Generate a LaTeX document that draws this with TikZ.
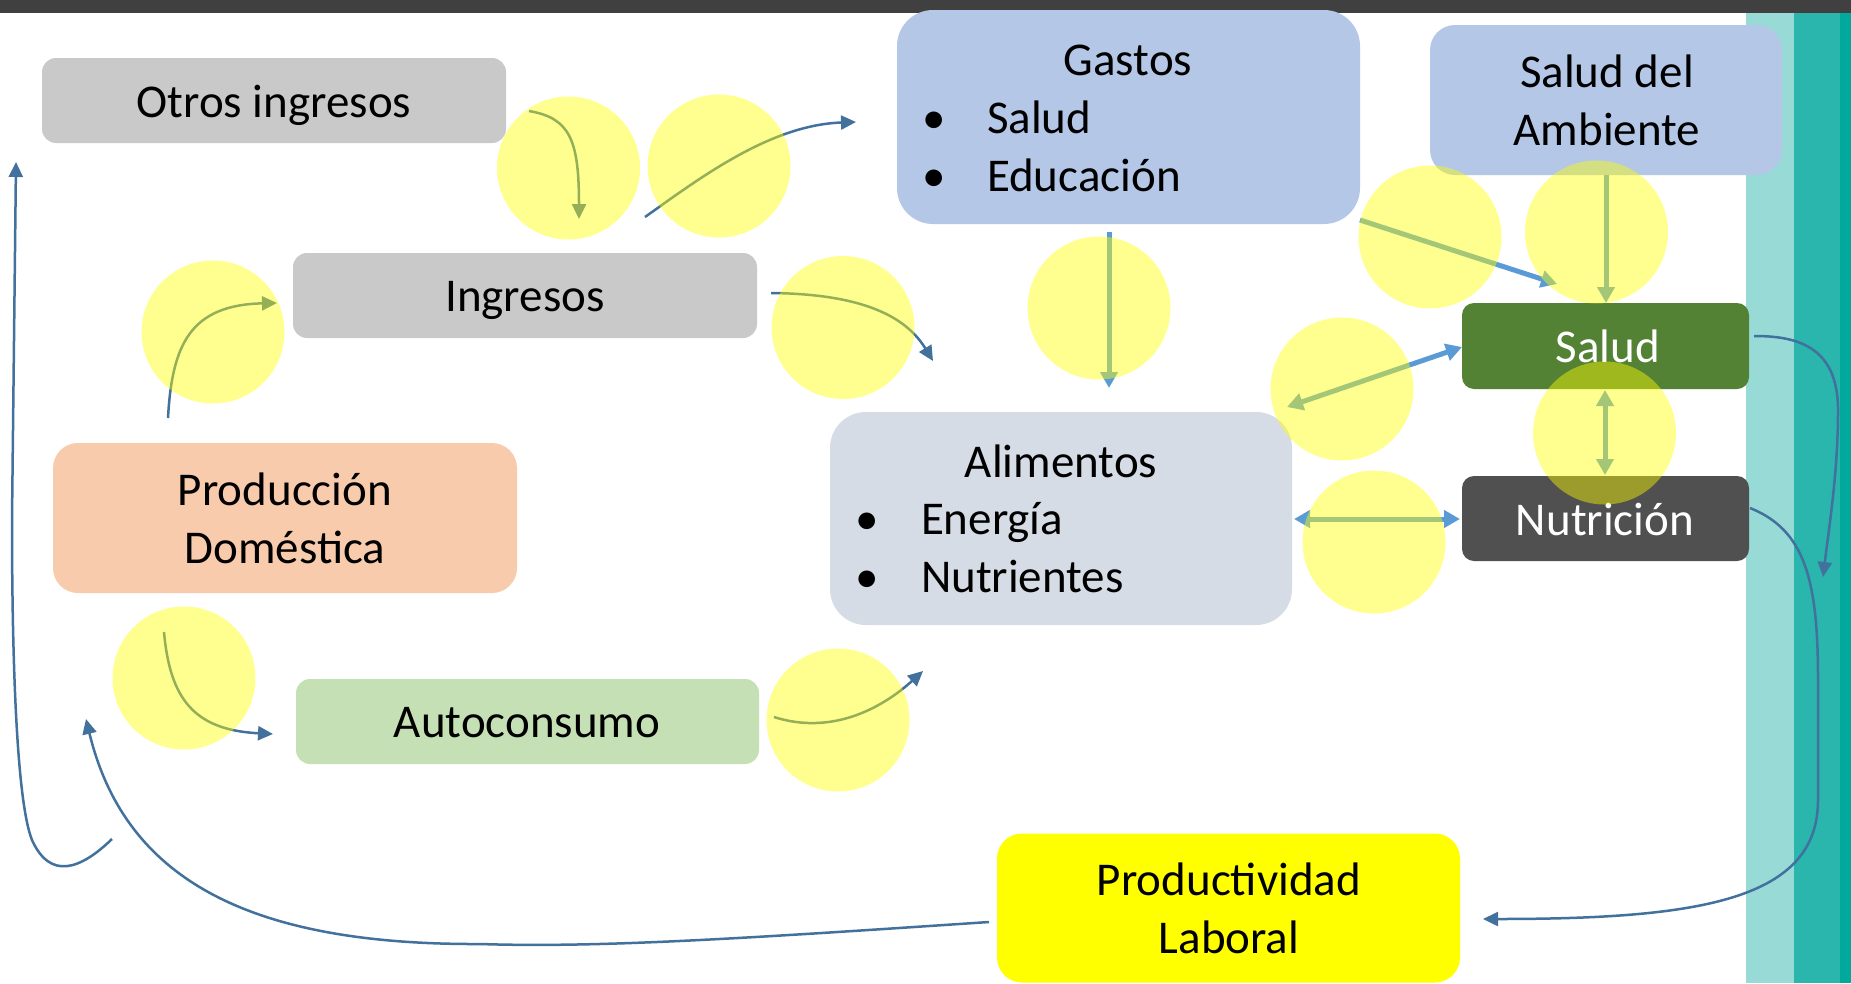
\documentclass[tikz,border=0pt]{standalone}
\usepackage{fontspec}
\setmainfont{Carlito}
\usetikzlibrary{arrows.meta}
\definecolor{topbar}{HTML}{404040}
\definecolor{tealA}{HTML}{98DBD6}
\definecolor{tealB}{HTML}{2AB5AD}
\definecolor{tealC}{HTML}{00A99C}
\definecolor{greybox}{HTML}{C9C9C9}
\definecolor{bluebox}{HTML}{B4C7E7}
\definecolor{alimbox}{HTML}{D6DCE5}
\definecolor{saludbox}{HTML}{548235}
\definecolor{nutribox}{HTML}{505050}
\definecolor{prodbox}{HTML}{F8CBAD}
\definecolor{autobox}{HTML}{C5E0B4}
\definecolor{dblue}{HTML}{41719C}
\definecolor{lblue}{HTML}{5B9BD5}
\definecolor{pureyellow}{HTML}{FFFF00}
\begin{document}
\begin{tikzpicture}[x=1pt,y=-1pt,
  box/.style={rectangle, draw=none, inner sep=0pt, outer sep=0pt},
  lbl/.style={anchor=base, inner sep=0pt, outer sep=0pt, text=black, font=\fontsize{47}{57.5}\selectfont},
  lblw/.style={lbl, anchor=base west},
  conn/.style={draw=dblue, line width=2.5pt, -{Triangle[length=15pt,width=14pt]}},
  fat/.style={draw=lblue, line width=5pt, -{Triangle[length=16pt,width=17pt]}},
  fatboth/.style={draw=lblue, line width=5pt, {Triangle[length=16pt,width=17pt]}-{Triangle[length=16pt,width=17pt]}},
  hl/.style={circle, draw=none, fill=pureyellow, fill opacity=0.44, minimum size=143pt, inner sep=0pt}]
\useasboundingbox (0,0) rectangle (1851,983);
\fill[white] (0,0) rectangle (1851,983);
\fill[topbar] (0,0) rectangle (1851,13);
\fill[tealA] (1746,13) rectangle (1794,983);
\fill[tealB] (1794,13) rectangle (1840,983);
\fill[tealC] (1840,13) rectangle (1851,983);

% boxes
\node[box, fill=greybox, minimum width=464pt, minimum height=85pt, rounded corners=14pt] (otros) at (274,100.5) {};
\node[box, fill=greybox, minimum width=464pt, minimum height=85pt, rounded corners=14pt] (ingresos) at (525,295.5) {};
\node[box, fill=bluebox, minimum width=463pt, minimum height=214pt, rounded corners=36pt] (gastos) at (1128.5,117) {};
\node[box, fill=bluebox, minimum width=352pt, minimum height=150pt, rounded corners=25pt] (ambiente) at (1606,100) {};
\node[box, fill=saludbox, minimum width=287pt, minimum height=86pt, rounded corners=12pt] (salud) at (1605.5,346) {};
\node[box, fill=nutribox, minimum width=287pt, minimum height=85pt, rounded corners=12pt] (nutricion) at (1605.5,518.5) {};
\node[box, fill=alimbox, minimum width=462pt, minimum height=213pt, rounded corners=36pt] (alimentos) at (1061,518.5) {};
\node[box, fill=prodbox, minimum width=464pt, minimum height=150pt, rounded corners=25pt] (produccion) at (285,518) {};
\node[box, fill=autobox, minimum width=463pt, minimum height=85pt, rounded corners=14pt] (autoconsumo) at (527.5,721.5) {};
\node[box, fill=pureyellow, minimum width=463pt, minimum height=149pt, rounded corners=25pt] (productividad) at (1228.5,908) {};

% texts
\node[lbl] (tOtros) at (274,117) {Otros ingresos};
\node[lbl] (tIngresos) at (525,311) {Ingresos};
\node[lbl] (tGastos) at (1128,75) {Gastos};
\node[lbl] (tGb1) at (934,133) {•};
\node[lbl] (tGb2) at (934,191) {•};
\node[lblw] (tGsalud) at (987,133) {Salud};
\node[lblw] (tGedu) at (987,191) {Educación};
\node[lbl] (tAmb1) at (1607,87) {Salud del};
\node[lbl] (tAmb2) at (1607,145) {Ambiente};
\node[lbl, text=white] (tSalud) at (1608,362) {Salud};
\node[lbl, text=white] (tNutri) at (1605,535) {Nutrición};
\node[lbl] (tAlim) at (1061,477) {Alimentos};
\node[lbl] (tAb1) at (867,534.5) {•};
\node[lbl] (tAb2) at (867,592) {•};
\node[lblw] (tEnergia) at (921,534.5) {Energía};
\node[lblw] (tNutrientes) at (921,592) {Nutrientes};
\node[lbl] (tProd1) at (285,505) {Producción};
\node[lbl] (tProd2) at (285,563) {Doméstica};
\node[lbl] (tAuto) at (527,737) {Autoconsumo};
\node[lbl] (tPL1) at (1229,895) {Productividad};
\node[lbl] (tPL2) at (1229,953) {Laboral};

% connector end points
\coordinate (a1s) at (529,111);   \coordinate (a1e) at (579,219);
\coordinate (a2s) at (645,217);   \coordinate (a2e) at (856,122);
\coordinate (a3s) at (168,418);   \coordinate (a3e) at (277,303);
\coordinate (a4s) at (771,293);   \coordinate (a4e) at (933,361);
\coordinate (a5s) at (1109,232);  \coordinate (a5e) at (1109,388);
\coordinate (a6s) at (1360,220);  \coordinate (a6e) at (1557,284);
\coordinate (a7s) at (1606,175);  \coordinate (a7e) at (1606,303);
\coordinate (a8s) at (1287,407);  \coordinate (a8e) at (1462,347);
\coordinate (a9s) at (1605,390);  \coordinate (a9e) at (1605,475);
\coordinate (a10s) at (1294,519); \coordinate (a10e) at (1460,519);
\coordinate (a11s) at (1754,336); \coordinate (a11e) at (1823,577);
\coordinate (a12s) at (1750,508); \coordinate (a12e) at (1483,919);
\coordinate (a13s) at (989,922);  \coordinate (a13e) at (86,719);
\coordinate (a14s) at (164,632);  \coordinate (a14e) at (273,734);
\coordinate (a15s) at (774,717);  \coordinate (a15e) at (923,671);
\coordinate (a16s) at (112,839);  \coordinate (a16e) at (16,162);

% connectors
\draw[conn] (a1s) .. controls (570,118) and (579,140) .. (a1e);
\draw[conn] (a2s) .. controls (700,178) and (770,125) .. (a2e);
\draw[conn] (a3s) .. controls (172,345) and (190,305) .. (a3e);
\draw[conn] (a4s) .. controls (860,294) and (905,315) .. (a4e);
\draw[fat] (a5s) -- (a5e);
\draw[fat] (a6s) -- (a6e);
\draw[fat] (a7s) -- (a7e);
\draw[fatboth] (a8s) -- (a8e);
\draw[fatboth] (a9s) -- (a9e);
\draw[fatboth] (a10s) -- (a10e);
\draw[conn] (a11s) .. controls (1795,336) and (1838,345) .. (1838,410) .. controls (1838,470) and (1830,520) .. (a11e);
\draw[conn] (a12s) .. controls (1805,530) and (1818,580) .. (1818,680) -- (1818,800) .. controls (1818,900) and (1700,919) .. (a12e);
\draw[conn] (a13s) .. controls (750,938) and (600,948) .. (480,944) .. controls (250,945) and (125,880) .. (a13e);
\draw[conn] (a14s) .. controls (170,700) and (195,730) .. (a14e);
\draw[conn] (a15s) .. controls (830,735) and (880,710) .. (a15e);
\draw[conn] (a16s) .. controls (80,870) and (50,880) .. (32,840) .. controls (16,800) and (12,650) .. (12,520) -- (a16e);

% highlighter circles
\node[hl] (h1) at (568.5,168) {};
\node[hl] (h2) at (719,166) {};
\node[hl] (h3) at (213,332) {};
\node[hl] (h4) at (843,327.5) {};
\node[hl] (h5) at (1099,308) {};
\node[hl] (h6) at (1430,237) {};
\node[hl] (h7) at (1596.5,232) {};
\node[hl] (h8) at (1342,389) {};
\node[hl] (h9) at (1604.5,433) {};
\node[hl] (h10) at (1374,542) {};
\node[hl] (h11) at (184,678) {};
\node[hl] (h12) at (838,720) {};
\end{tikzpicture}
\end{document}
